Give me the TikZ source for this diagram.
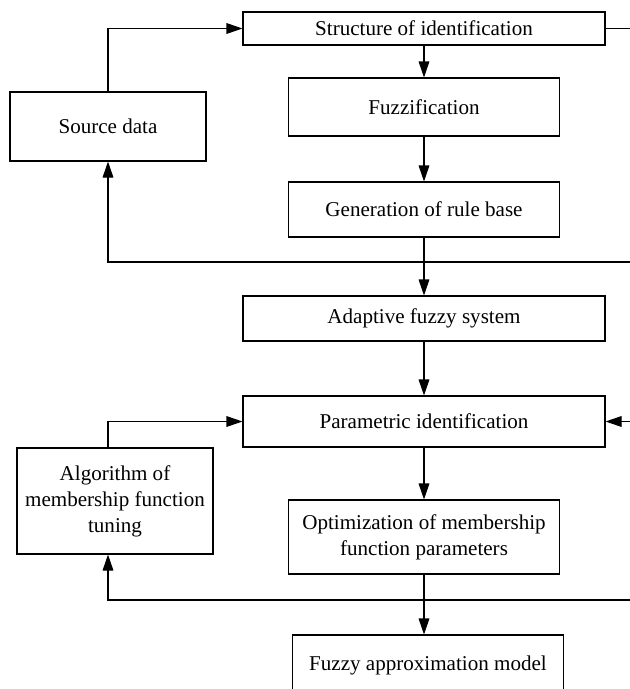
\documentclass[tikz,border=0pt]{standalone}
\usepackage{fontspec}
\setmainfont{Liberation Serif}
\usepackage{tikz}
\usetikzlibrary{
  calc
  , arrows.meta
}

\begin{document}
\begin{tikzpicture}[
    x=0.75pt, y=-0.75pt,
    line width=0.8pt,
    font=\fontsize{15.8pt}{19.5pt}\selectfont,
    >={Triangle[length=12pt, width=8pt]},
    blk/.style={draw, rectangle, inner sep=2pt, align=center},
    wideblk/.style={blk, minimum width=271.5pt},
    midblk/.style={blk, minimum width=203.25pt},
    sideblk/.style={blk, minimum width=147pt},
  ]
      \useasboundingbox (0, 0) rectangle (630, 689);
      \def\MainX {424};
      \def\RightX {630};

      % main chain
      \node [wideblk, minimum height=24.75pt] (Struct) at (\MainX, 28.5) {Structure of identification};
      \node [midblk, minimum height=43.5pt] (Fuzz) at (\MainX, 107) {Fuzzification};
      \node [midblk, minimum height=41.25pt] (RuleBase) at (\MainX, 209.5) {Generation of rule base};
      \node [wideblk, minimum height=33.75pt] (Adapt) at (\MainX, 318.5) {Adaptive fuzzy system};
      \node [wideblk, minimum height=38.25pt] (ParamId) at (\MainX, 421.5) {Parametric identification};
      \node [midblk, minimum height=55.5pt] (Optim) at (\MainX, 537) {Optimization of membership\\function parameters};
      \node [midblk, minimum height=45pt] (Approx) at (428, 665) {Fuzzy approximation model};

      % side blocks
      \node [sideblk, minimum height=51.75pt] (Source) at (108, 126.5) {Source data};
      \node [sideblk, minimum height=79.5pt] (Tuning) at (115, 501) {Algorithm of\\membership function\\tuning};

      % loose ends at the right edge
      \coordinate (StructOut) at (\RightX, 28.5);
      \coordinate (FbOneIn) at (\RightX, 262);
      \coordinate (ParamIn) at (\RightX, 421.5);
      \coordinate (FbTwoIn) at (\RightX, 600);

      \draw[->] (Struct) -- (Fuzz);
      \draw[->] (Fuzz) -- (RuleBase);
      \draw[->] (RuleBase) -- (Adapt);
      \draw[->] (Adapt) -- (ParamId);
      \draw[->] (ParamId) -- (Optim);
      \draw[->] (Optim) -- (Approx.north -| Optim.south);

      \draw[->] (Source.north) |- (Struct.west);
      \draw (Struct.east) -- (StructOut);
      \draw[->] (FbOneIn) -| (Source.south);

      \draw[->] (Tuning.north -| Source.south) |- (ParamId.west);
      \draw[->] (ParamIn) -- (ParamId.east);
      \draw[->] (FbTwoIn) -| (Tuning.south -| Source.south);

    \end{tikzpicture}
\end{document}
